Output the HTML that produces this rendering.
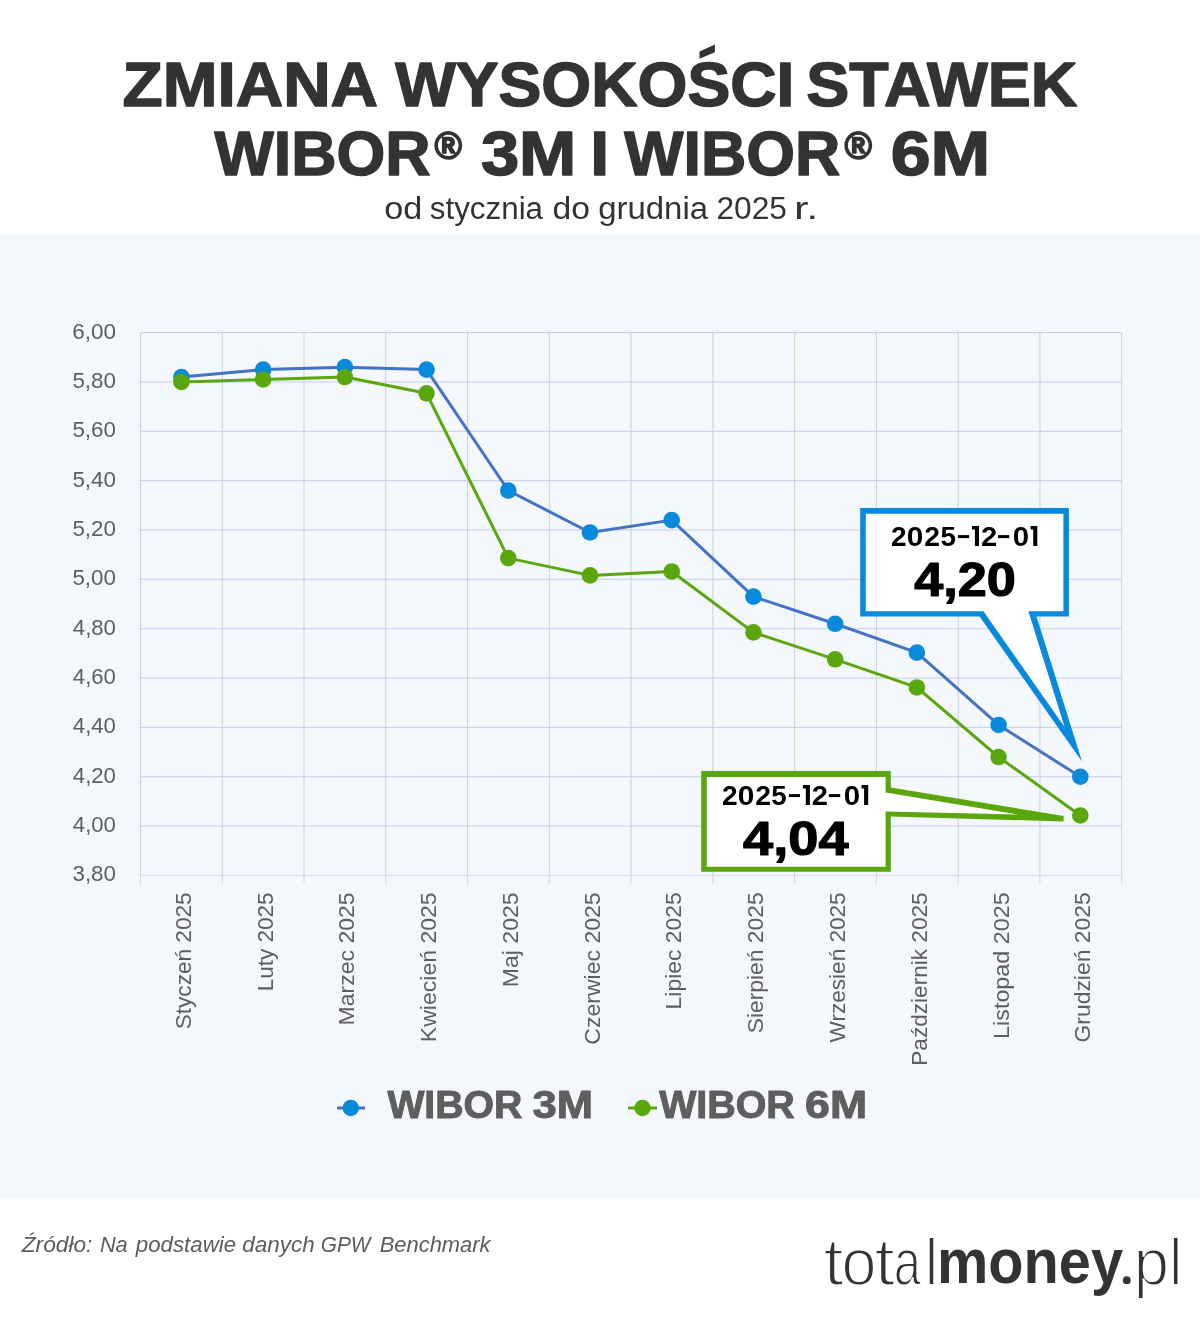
<!DOCTYPE html>
<html lang="pl"><head><meta charset="utf-8"><title>WIBOR 3M i 6M 2025</title>
<style>html,body{margin:0;padding:0;background:#fff}body{width:1200px;height:1334px;overflow:hidden}svg{display:block}text{font-family:"Liberation Sans",sans-serif}</style></head><body>
<svg width="1200" height="1334" viewBox="0 0 1200 1334">
<defs><mask id="m" maskUnits="userSpaceOnUse" x="0" y="0" width="1200" height="1334"><rect width="1200" height="1334" fill="#ffffff"/></mask></defs>
<rect width="1200" height="1334" fill="#ffffff"/>
<g mask="url(#m)">
<rect x="0" y="234.8" width="1200" height="963.2" fill="#f4f7fc"/>
<text x="122.53" y="105.95" font-size="63.3" textLength="255.58" lengthAdjust="spacingAndGlyphs" font-weight="700" fill="#333333" stroke="#333333" stroke-width="1.5" stroke-linejoin="round">ZMIANA</text>
<text x="395.19" y="105.95" font-size="63.3" textLength="399.21" lengthAdjust="spacingAndGlyphs" font-weight="700" fill="#333333" stroke="#333333" stroke-width="1.5" stroke-linejoin="round">WYSOKOŚCI</text>
<rect x="698" y="43" width="28" height="17.3" fill="#ffffff"/>
<polygon fill="#333333" points="699.5,51.6 714.9,44.5 714.9,52.2 699.5,58.8"/>
<text x="806.32" y="105.95" font-size="63.3" textLength="271.00" lengthAdjust="spacingAndGlyphs" font-weight="700" fill="#333333" stroke="#333333" stroke-width="1.5" stroke-linejoin="round">STAWEK</text>
<text x="214.59" y="175.25" font-size="63.3" textLength="216.00" lengthAdjust="spacingAndGlyphs" font-weight="700" fill="#333333" stroke="#333333" stroke-width="1.5" stroke-linejoin="round">WIBOR</text>
<text x="434.54" y="159.30" font-size="39" textLength="27.49" lengthAdjust="spacingAndGlyphs" font-weight="700" fill="#333333" stroke="#333333" stroke-width="1.6" stroke-linejoin="round">®</text>
<text x="480.90" y="175.25" font-size="63.3" textLength="95.40" lengthAdjust="spacingAndGlyphs" font-weight="700" fill="#333333" stroke="#333333" stroke-width="1.5" stroke-linejoin="round">3M</text>
<text x="590.16" y="175.25" font-size="63.3" textLength="18.91" lengthAdjust="spacingAndGlyphs" font-weight="700" fill="#333333" stroke="#333333" stroke-width="1.5" stroke-linejoin="round">I</text>
<text x="624.34" y="175.25" font-size="63.3" textLength="215.95" lengthAdjust="spacingAndGlyphs" font-weight="700" fill="#333333" stroke="#333333" stroke-width="1.5" stroke-linejoin="round">WIBOR</text>
<text x="844.54" y="159.30" font-size="39" textLength="27.49" lengthAdjust="spacingAndGlyphs" font-weight="700" fill="#333333" stroke="#333333" stroke-width="1.6" stroke-linejoin="round">®</text>
<text x="890.66" y="175.25" font-size="63.3" textLength="99.54" lengthAdjust="spacingAndGlyphs" font-weight="700" fill="#333333" stroke="#333333" stroke-width="1.5" stroke-linejoin="round">6M</text>
<text x="384.15" y="218.60" font-size="31" textLength="38.07" lengthAdjust="spacingAndGlyphs" fill="#333333">od</text>
<text x="429.74" y="218.60" font-size="31" textLength="113.34" lengthAdjust="spacingAndGlyphs" fill="#333333">stycznia</text>
<text x="552.57" y="218.60" font-size="31" textLength="37.46" lengthAdjust="spacingAndGlyphs" fill="#333333">do</text>
<text x="598.20" y="218.60" font-size="31" textLength="109.83" lengthAdjust="spacingAndGlyphs" fill="#333333">grudnia</text>
<text x="716.42" y="218.60" font-size="31" textLength="70.52" lengthAdjust="spacingAndGlyphs" fill="#333333">2025</text>
<text x="794.05" y="218.60" font-size="31" textLength="24.33" lengthAdjust="spacingAndGlyphs" fill="#333333">r.</text>
<g stroke="#c1cfea" stroke-width="1" fill="none">
<line x1="140.50" y1="332.60" x2="140.50" y2="875.45"/>
<line x1="222.27" y1="332.60" x2="222.27" y2="875.45"/>
<line x1="304.03" y1="332.60" x2="304.03" y2="875.45"/>
<line x1="385.80" y1="332.60" x2="385.80" y2="875.45"/>
<line x1="467.57" y1="332.60" x2="467.57" y2="875.45"/>
<line x1="549.33" y1="332.60" x2="549.33" y2="875.45"/>
<line x1="631.10" y1="332.60" x2="631.10" y2="875.45"/>
<line x1="712.87" y1="332.60" x2="712.87" y2="875.45"/>
<line x1="794.63" y1="332.60" x2="794.63" y2="875.45"/>
<line x1="876.40" y1="332.60" x2="876.40" y2="875.45"/>
<line x1="958.17" y1="332.60" x2="958.17" y2="875.45"/>
<line x1="1039.93" y1="332.60" x2="1039.93" y2="875.45"/>
<line x1="1121.70" y1="332.60" x2="1121.70" y2="875.45"/>
<line x1="140.50" y1="332.60" x2="1121.70" y2="332.60"/>
<line x1="140.50" y1="381.95" x2="1121.70" y2="381.95"/>
<line x1="140.50" y1="431.30" x2="1121.70" y2="431.30"/>
<line x1="140.50" y1="480.65" x2="1121.70" y2="480.65"/>
<line x1="140.50" y1="530.00" x2="1121.70" y2="530.00"/>
<line x1="140.50" y1="579.35" x2="1121.70" y2="579.35"/>
<line x1="140.50" y1="628.70" x2="1121.70" y2="628.70"/>
<line x1="140.50" y1="678.05" x2="1121.70" y2="678.05"/>
<line x1="140.50" y1="727.40" x2="1121.70" y2="727.40"/>
<line x1="140.50" y1="776.75" x2="1121.70" y2="776.75"/>
<line x1="140.50" y1="826.10" x2="1121.70" y2="826.10"/>
</g>
<g stroke="#d0dbec" stroke-width="1" fill="none">
<line x1="140.50" y1="875.45" x2="1121.70" y2="875.45"/>
<line x1="140.50" y1="875.45" x2="140.50" y2="884.2"/>
<line x1="222.27" y1="875.45" x2="222.27" y2="884.2"/>
<line x1="304.03" y1="875.45" x2="304.03" y2="884.2"/>
<line x1="385.80" y1="875.45" x2="385.80" y2="884.2"/>
<line x1="467.57" y1="875.45" x2="467.57" y2="884.2"/>
<line x1="549.33" y1="875.45" x2="549.33" y2="884.2"/>
<line x1="631.10" y1="875.45" x2="631.10" y2="884.2"/>
<line x1="712.87" y1="875.45" x2="712.87" y2="884.2"/>
<line x1="794.63" y1="875.45" x2="794.63" y2="884.2"/>
<line x1="876.40" y1="875.45" x2="876.40" y2="884.2"/>
<line x1="958.17" y1="875.45" x2="958.17" y2="884.2"/>
<line x1="1039.93" y1="875.45" x2="1039.93" y2="884.2"/>
<line x1="1121.70" y1="875.45" x2="1121.70" y2="884.2"/>
</g>
<g fill="#5e5e5e">
<text x="72.17" y="338.60" font-size="22.4" textLength="43.80" lengthAdjust="spacingAndGlyphs">6,00</text>
<text x="72.40" y="387.95" font-size="22.4" textLength="43.57" lengthAdjust="spacingAndGlyphs">5,80</text>
<text x="72.40" y="437.30" font-size="22.4" textLength="43.57" lengthAdjust="spacingAndGlyphs">5,60</text>
<text x="72.40" y="486.65" font-size="22.4" textLength="43.57" lengthAdjust="spacingAndGlyphs">5,40</text>
<text x="72.40" y="536.00" font-size="22.4" textLength="43.57" lengthAdjust="spacingAndGlyphs">5,20</text>
<text x="72.40" y="585.35" font-size="22.4" textLength="43.57" lengthAdjust="spacingAndGlyphs">5,00</text>
<text x="72.80" y="634.70" font-size="22.4" textLength="43.16" lengthAdjust="spacingAndGlyphs">4,80</text>
<text x="72.80" y="684.05" font-size="22.4" textLength="43.16" lengthAdjust="spacingAndGlyphs">4,60</text>
<text x="72.80" y="733.40" font-size="22.4" textLength="43.16" lengthAdjust="spacingAndGlyphs">4,40</text>
<text x="72.80" y="782.75" font-size="22.4" textLength="43.16" lengthAdjust="spacingAndGlyphs">4,20</text>
<text x="72.80" y="832.10" font-size="22.4" textLength="43.16" lengthAdjust="spacingAndGlyphs">4,00</text>
<text x="72.46" y="881.45" font-size="22.4" textLength="43.51" lengthAdjust="spacingAndGlyphs">3,80</text>
</g>
<g fill="#5e5e5e">
<g transform="translate(190.88 893.3) rotate(-90)"><text x="-136.02" y="0.00" font-size="22.5" textLength="136.97" lengthAdjust="spacingAndGlyphs">Styczeń 2025</text></g>
<g transform="translate(272.65 893.3) rotate(-90)"><text x="-98.06" y="0.00" font-size="22.5" textLength="98.97" lengthAdjust="spacingAndGlyphs">Luty 2025</text></g>
<g transform="translate(354.42 893.3) rotate(-90)"><text x="-132.10" y="0.00" font-size="22.5" textLength="133.04" lengthAdjust="spacingAndGlyphs">Marzec 2025</text></g>
<g transform="translate(436.18 893.3) rotate(-90)"><text x="-148.90" y="0.00" font-size="22.5" textLength="149.87" lengthAdjust="spacingAndGlyphs">Kwiecień 2025</text></g>
<g transform="translate(517.95 893.3) rotate(-90)"><text x="-93.90" y="0.00" font-size="22.5" textLength="94.86" lengthAdjust="spacingAndGlyphs">Maj 2025</text></g>
<g transform="translate(599.72 893.3) rotate(-90)"><text x="-151.35" y="0.00" font-size="22.5" textLength="152.32" lengthAdjust="spacingAndGlyphs">Czerwiec 2025</text></g>
<g transform="translate(681.48 893.3) rotate(-90)"><text x="-116.09" y="0.00" font-size="22.5" textLength="117.01" lengthAdjust="spacingAndGlyphs">Lipiec 2025</text></g>
<g transform="translate(763.25 893.3) rotate(-90)"><text x="-140.03" y="0.00" font-size="22.5" textLength="140.98" lengthAdjust="spacingAndGlyphs">Sierpień 2025</text></g>
<g transform="translate(845.02 893.3) rotate(-90)"><text x="-149.11" y="0.00" font-size="22.5" textLength="150.06" lengthAdjust="spacingAndGlyphs">Wrzesień 2025</text></g>
<g transform="translate(926.78 893.3) rotate(-90)"><text x="-172.46" y="0.00" font-size="22.5" textLength="173.41" lengthAdjust="spacingAndGlyphs">Październik 2025</text></g>
<g transform="translate(1008.55 893.3) rotate(-90)"><text x="-145.62" y="0.00" font-size="22.5" textLength="146.58" lengthAdjust="spacingAndGlyphs">Listopad 2025</text></g>
<g transform="translate(1090.32 893.3) rotate(-90)"><text x="-149.14" y="0.00" font-size="22.5" textLength="150.06" lengthAdjust="spacingAndGlyphs">Grudzień 2025</text></g>
</g>
<polyline points="181.40,377.01 263.12,369.61 344.84,367.14 426.56,369.61 508.28,490.52 590.00,532.47 671.72,520.13 753.44,596.62 835.16,623.76 916.88,652.63 998.60,724.93 1080.32,776.75" fill="none" stroke="#4472c4" stroke-width="3" stroke-linejoin="round"/>
<g fill="#0789dc">
<circle cx="181.40" cy="377.01" r="8.3"/>
<circle cx="263.12" cy="369.61" r="8.3"/>
<circle cx="344.84" cy="367.14" r="8.3"/>
<circle cx="426.56" cy="369.61" r="8.3"/>
<circle cx="508.28" cy="490.52" r="8.3"/>
<circle cx="590.00" cy="532.47" r="8.3"/>
<circle cx="671.72" cy="520.13" r="8.3"/>
<circle cx="753.44" cy="596.62" r="8.3"/>
<circle cx="835.16" cy="623.76" r="8.3"/>
<circle cx="916.88" cy="652.63" r="8.3"/>
<circle cx="998.60" cy="724.93" r="8.3"/>
<circle cx="1080.32" cy="776.75" r="8.3"/>
</g>
<polyline points="181.40,381.95 263.12,379.48 344.84,377.01 426.56,393.30 508.28,558.13 590.00,575.40 671.72,571.45 753.44,632.40 835.16,659.30 916.88,687.43 998.60,757.01 1080.32,815.49" fill="none" stroke="#5aa70d" stroke-width="3" stroke-linejoin="round"/>
<g fill="#5aa70d">
<circle cx="181.40" cy="381.95" r="8.3"/>
<circle cx="263.12" cy="379.48" r="8.3"/>
<circle cx="344.84" cy="377.01" r="8.3"/>
<circle cx="426.56" cy="393.30" r="8.3"/>
<circle cx="508.28" cy="558.13" r="8.3"/>
<circle cx="590.00" cy="575.40" r="8.3"/>
<circle cx="671.72" cy="571.45" r="8.3"/>
<circle cx="753.44" cy="632.40" r="8.3"/>
<circle cx="835.16" cy="659.30" r="8.3"/>
<circle cx="916.88" cy="687.43" r="8.3"/>
<circle cx="998.60" cy="757.01" r="8.3"/>
<circle cx="1080.32" cy="815.49" r="8.3"/>
</g>
<polygon fill="#0789dc" points="860.2,508.0 1068.9,508.0 1068.9,616.5 1036.5,616.5 1082,761.5 979.6,616.5 860.2,616.5"/>
<polygon fill="#ffffff" points="865.8,513.7 1063.4,513.7 1063.4,611.2 1028.4,611.2 1064.6,727 983.4,611.2 865.8,611.2"/>
<polygon fill="#5aa70d" points="701.2,771.1 890.8,771.1 890.8,787.6 1063.6,816 1063.6,821.4 890.8,816.6 890.8,871.8 701.2,871.8"/>
<polygon fill="#ffffff" points="706.8,776.9 885.6,776.9 885.6,792.4 1018,814.4 885.6,811.4 885.6,866.7 706.8,866.7"/>
<text x="891.02" y="545.90" font-size="28.4" font-weight="700" fill="#000000" textLength="15.64" lengthAdjust="spacingAndGlyphs">2</text>
<text x="906.80" y="545.90" font-size="28.4" font-weight="700" fill="#000000" textLength="16.63" lengthAdjust="spacingAndGlyphs">0</text>
<text x="924.31" y="545.90" font-size="28.4" font-weight="700" fill="#000000" textLength="15.76" lengthAdjust="spacingAndGlyphs">2</text>
<text x="940.47" y="545.90" font-size="28.4" font-weight="700" fill="#000000" textLength="15.43" lengthAdjust="spacingAndGlyphs">5</text>
<text x="980.98" y="545.90" font-size="28.4" font-weight="700" fill="#000000" textLength="16.22" lengthAdjust="spacingAndGlyphs">2</text>
<text x="1012.82" y="545.90" font-size="28.4" font-weight="700" fill="#000000" textLength="16.39" lengthAdjust="spacingAndGlyphs">0</text>
<path fill="#000000" d="M972.00,526.10H979.00V545.90H974.90V529.50H972.00Z"/>
<path fill="#000000" d="M1030.60,526.10H1037.30V545.90H1033.20V529.50H1030.60Z"/>
<rect x="958.00" y="535.10" width="11.1" height="3" fill="#000000"/>
<rect x="998.00" y="535.10" width="11.3" height="3" fill="#000000"/>
<text x="721.92" y="804.90" font-size="28.4" font-weight="700" fill="#000000" textLength="15.64" lengthAdjust="spacingAndGlyphs">2</text>
<text x="737.70" y="804.90" font-size="28.4" font-weight="700" fill="#000000" textLength="16.63" lengthAdjust="spacingAndGlyphs">0</text>
<text x="755.21" y="804.90" font-size="28.4" font-weight="700" fill="#000000" textLength="15.76" lengthAdjust="spacingAndGlyphs">2</text>
<text x="771.37" y="804.90" font-size="28.4" font-weight="700" fill="#000000" textLength="15.43" lengthAdjust="spacingAndGlyphs">5</text>
<text x="811.88" y="804.90" font-size="28.4" font-weight="700" fill="#000000" textLength="16.22" lengthAdjust="spacingAndGlyphs">2</text>
<text x="843.72" y="804.90" font-size="28.4" font-weight="700" fill="#000000" textLength="16.39" lengthAdjust="spacingAndGlyphs">0</text>
<path fill="#000000" d="M802.90,785.10H809.90V804.90H805.80V788.50H802.90Z"/>
<path fill="#000000" d="M861.50,785.10H868.20V804.90H864.10V788.50H861.50Z"/>
<rect x="788.90" y="794.10" width="11.1" height="3" fill="#000000"/>
<rect x="828.90" y="794.10" width="11.3" height="3" fill="#000000"/>
<text x="914.22" y="595.70" font-size="48" textLength="101.64" lengthAdjust="spacingAndGlyphs" font-weight="700" fill="#000000" stroke="#000000" stroke-width="1.2" stroke-linejoin="round">4,20</text>
<text x="743.09" y="855.00" font-size="48" textLength="105.46" lengthAdjust="spacingAndGlyphs" font-weight="700" fill="#000000" stroke="#000000" stroke-width="1.2" stroke-linejoin="round">4,04</text>
<line x1="337" y1="1108" x2="365" y2="1108" stroke="#4472c4" stroke-width="3"/><circle cx="350.75" cy="1108" r="8.2" fill="#0789dc"/>
<line x1="628" y1="1108" x2="657" y2="1108" stroke="#5aa70d" stroke-width="3"/><circle cx="642.5" cy="1108" r="8.2" fill="#5aa70d"/>
<text x="387.40" y="1118.25" font-size="38.6" textLength="134.94" lengthAdjust="spacingAndGlyphs" font-weight="700" fill="#5e5e5e" stroke="#5e5e5e" stroke-width="1" stroke-linejoin="round">WIBOR</text>
<text x="532.52" y="1118.25" font-size="38.6" textLength="60.49" lengthAdjust="spacingAndGlyphs" font-weight="700" fill="#5e5e5e" stroke="#5e5e5e" stroke-width="1" stroke-linejoin="round">3M</text>
<text x="659.15" y="1118.25" font-size="38.6" textLength="135.69" lengthAdjust="spacingAndGlyphs" font-weight="700" fill="#5e5e5e" stroke="#5e5e5e" stroke-width="1" stroke-linejoin="round">WIBOR</text>
<text x="805.08" y="1118.25" font-size="38.6" textLength="62.01" lengthAdjust="spacingAndGlyphs" font-weight="700" fill="#5e5e5e" stroke="#5e5e5e" stroke-width="1" stroke-linejoin="round">6M</text>
<text x="21.75" y="1251.50" font-size="22.3" textLength="70.65" lengthAdjust="spacingAndGlyphs" font-style="italic" fill="#5c5c5c">Źródło:</text>
<text x="99.95" y="1251.50" font-size="22.3" textLength="27.78" lengthAdjust="spacingAndGlyphs" font-style="italic" fill="#5c5c5c">Na</text>
<text x="135.76" y="1251.50" font-size="22.3" textLength="100.34" lengthAdjust="spacingAndGlyphs" font-style="italic" fill="#5c5c5c">podstawie</text>
<text x="242.27" y="1251.50" font-size="22.3" textLength="72.49" lengthAdjust="spacingAndGlyphs" font-style="italic" fill="#5c5c5c">danych</text>
<text x="320.76" y="1251.50" font-size="22.3" textLength="49.80" lengthAdjust="spacingAndGlyphs" font-style="italic" fill="#5c5c5c">GPW</text>
<text x="379.64" y="1251.50" font-size="22.3" textLength="110.98" lengthAdjust="spacingAndGlyphs" font-style="italic" fill="#5c5c5c">Benchmark</text>
<text x="823.47" y="1284.55" font-size="66.4" fill="#333333" textLength="20.05" lengthAdjust="spacingAndGlyphs" stroke="#ffffff" stroke-width="1.9" paint-order="fill stroke">t</text>
<text x="841.38" y="1284.55" font-size="66.4" fill="#333333" textLength="34.96" lengthAdjust="spacingAndGlyphs" stroke="#ffffff" stroke-width="1.9" paint-order="fill stroke">o</text>
<text x="874.64" y="1284.55" font-size="66.4" fill="#333333" textLength="20.48" lengthAdjust="spacingAndGlyphs" stroke="#ffffff" stroke-width="1.9" paint-order="fill stroke">t</text>
<text x="893.68" y="1284.55" font-size="66.4" fill="#333333" textLength="27.13" lengthAdjust="spacingAndGlyphs" stroke="#ffffff" stroke-width="1.9" paint-order="fill stroke">a</text>
<text x="924.86" y="1284.55" font-size="66.4" fill="#333333" textLength="13.46" lengthAdjust="spacingAndGlyphs" stroke="#ffffff" stroke-width="1.9" paint-order="fill stroke">l</text>
<text x="936.95" y="1283.30" font-size="63" textLength="186.08" lengthAdjust="spacingAndGlyphs" font-weight="700" fill="#333333">money</text>
<circle cx="1126.8" cy="1280.2" r="3.9" fill="#333333"/>
<text x="1133.83" y="1284.55" font-size="66.4" fill="#333333" textLength="35.22" lengthAdjust="spacingAndGlyphs" stroke="#ffffff" stroke-width="1.9" paint-order="fill stroke">p</text>
<text x="1168.96" y="1284.55" font-size="66.4" fill="#333333" textLength="13.46" lengthAdjust="spacingAndGlyphs" stroke="#ffffff" stroke-width="1.9" paint-order="fill stroke">l</text>
</g>
</svg></body></html>
